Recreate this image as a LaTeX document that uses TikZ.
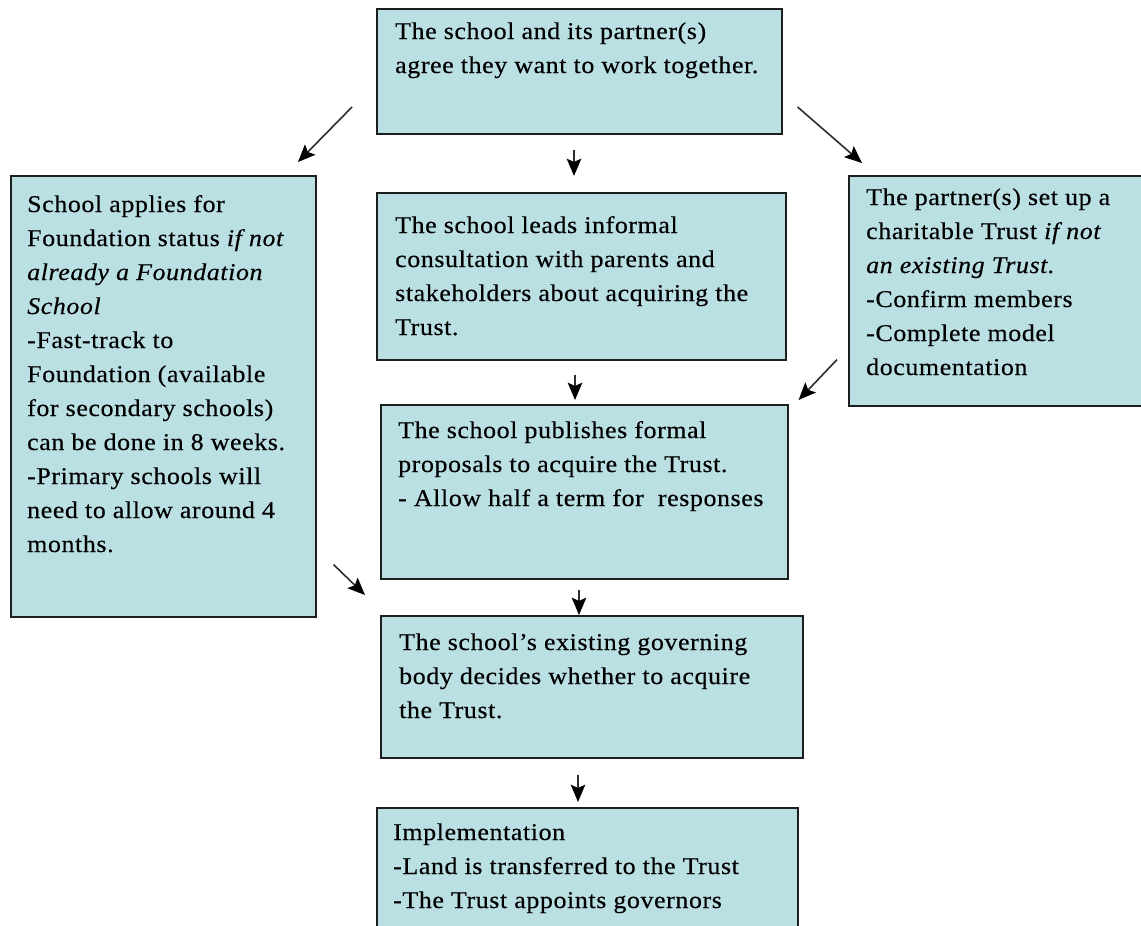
\documentclass[tikz,border=0pt]{standalone}
\usepackage{fontspec}
\setmainfont{Liberation Serif}[FakeStretch=1.08,LetterSpace=2.5,FakeBold=0.4]
\usetikzlibrary{calc}
\definecolor{boxfill}{RGB}{187,224,228}
\definecolor{edge}{RGB}{30,30,30}
\definecolor{arr}{RGB}{45,45,45}
\newcommand{\boxtext}[1]{\parbox[t]{420pt}{\fontsize{24}{34}\selectfont\raggedright #1}}
\newcommand{\flowconn}[2]{%
  \draw[flowline] (#1) -- ($(#2)!10pt!(#1)$);
  \fill[flowhead] (#2) -- ($(#2)!19pt!23:(#1)$) -- ($(#2)!14pt!(#1)$) -- ($(#2)!19pt!-23:(#1)$) -- cycle;}
\tikzset{
  flowbox/.style={draw=edge, fill=boxfill, line width=1.6pt, rectangle, inner sep=0pt, anchor=north west},
  flowtext/.style={inner sep=0pt, anchor=base west},
  flowline/.style={draw=arr, line width=1.6pt},
  flowhead/.style={fill=black}
}
\begin{document}
\begin{tikzpicture}[x=1pt,y=-1pt]
\useasboundingbox (0,0) rectangle (1141,926);
\clip (0,0) rectangle (1141,926);
\fill[white] (0,0) rectangle (1141,926);
% boxes
\node[flowbox, minimum width=405pt, minimum height=125pt] (b1) at (376,8) {};
\node[flowbox, minimum width=305pt, minimum height=441pt] (b2) at (10,175) {};
\node[flowbox, minimum width=409pt, minimum height=167pt] (b3) at (376,192) {};
\node[flowbox, minimum width=320pt, minimum height=230pt] (b4) at (848,175) {};
\node[flowbox, minimum width=407pt, minimum height=174pt] (b5) at (380,404) {};
\node[flowbox, minimum width=422pt, minimum height=142pt] (b6) at (380,615) {};
\node[flowbox, minimum width=421pt, minimum height=160pt] (b7) at (376,807) {};
% texts
\node[flowtext] (t1) at (395,39) {\boxtext{The school and its partner(s)\\agree they want to work together.}};
\node[flowtext] (t2) at (27,212) {\boxtext{School applies for\\Foundation status \textit{if not}\\\textit{already a Foundation}\\\textit{School}\\-Fast-track to\\Foundation (available\\for secondary schools)\\can be done in 8 weeks.\\-Primary schools will\\need to allow around 4\\months.}};
\node[flowtext] (t3) at (395,233) {\boxtext{The school leads informal\\consultation with parents and\\stakeholders about acquiring the\\Trust.}};
\node[flowtext] (t4) at (866,205) {\boxtext{The partner(s) set up a\\charitable Trust \textit{if not}\\\textit{an existing Trust}.\\-Confirm members\\-Complete model\\documentation}};
\node[flowtext] (t5) at (398,438) {\boxtext{The school publishes formal\\proposals to acquire the Trust.\\- Allow half a term for \ responses}};
\node[flowtext] (t6) at (399,650) {\boxtext{The school’s existing governing\\body decides whether to acquire\\the Trust.}};
\node[flowtext] (t7) at (393,840) {\boxtext{Implementation\\-Land is transferred to the Trust\\-The Trust appoints governors}};
% connector end points
\coordinate (a1s) at ([shift={(-24,99)}]b1.north west);
\coordinate (a1e) at ([shift={(288,-13)}]b2.north west);
\coordinate (a2s) at ([shift={(198,15)}]b1.south west);
\coordinate (a2e) at ([shift={(198,-16)}]b3.north west);
\coordinate (a3s) at ([shift={(15,99)}]b1.north east);
\coordinate (a3e) at ([shift={(14,-12)}]b4.north west);
\coordinate (a4s) at ([shift={(199,14)}]b3.south west);
\coordinate (a4e) at ([shift={(195,-4)}]b5.north west);
\coordinate (a5s) at ([shift={(-11,-47)}]b4.south west);
\coordinate (a5e) at ([shift={(10,-4)}]b5.north east);
\coordinate (a6s) at ([shift={(17,-53)}]b2.south east);
\coordinate (a6e) at ([shift={(-15,-20)}]b6.north west);
\coordinate (a7s) at ([shift={(199,10)}]b5.south west);
\coordinate (a7e) at ([shift={(199,0)}]b6.north west);
\coordinate (a8s) at ([shift={(198,16)}]b6.south west);
\coordinate (a8e) at ([shift={(202,-5)}]b7.north west);
% connectors
\flowconn{a1s}{a1e}
\flowconn{a2s}{a2e}
\flowconn{a3s}{a3e}
\flowconn{a4s}{a4e}
\flowconn{a5s}{a5e}
\flowconn{a6s}{a6e}
\flowconn{a7s}{a7e}
\flowconn{a8s}{a8e}
\end{tikzpicture}
\end{document}
